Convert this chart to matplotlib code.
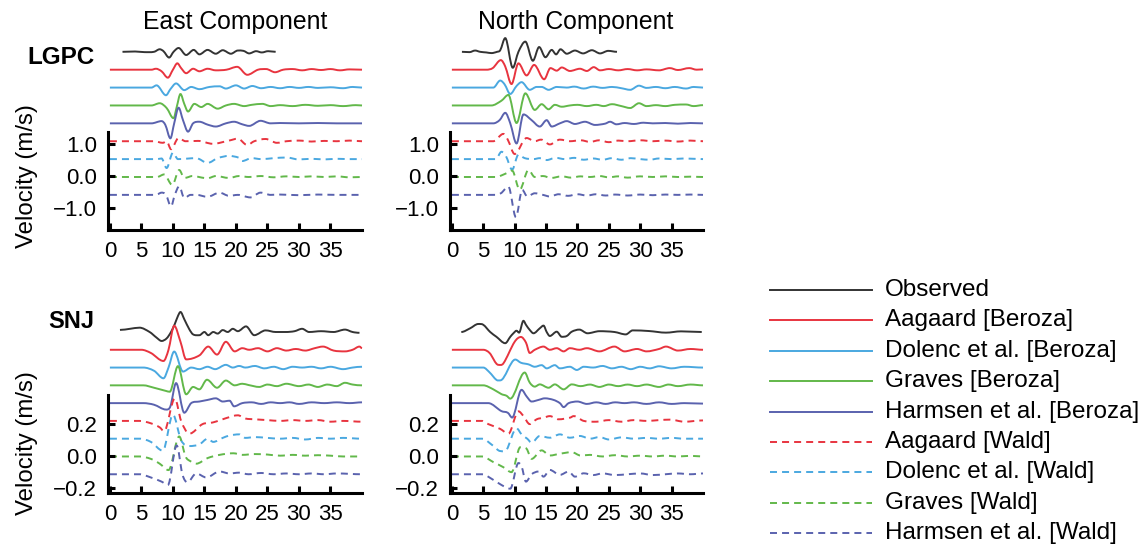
import matplotlib
matplotlib.use('Agg')
import matplotlib.pyplot as plt
from matplotlib.lines import Line2D
from matplotlib.path import Path
from matplotlib.patches import PathPatch

plt.rcParams['font.family'] = ['Liberation Sans', 'DejaVu Sans']

W, H = 1146, 547

series = ['Observed', 'Aagaard [Beroza]', 'Dolenc et al. [Beroza]', 'Graves [Beroza]',
          'Harmsen et al. [Beroza]', 'Aagaard [Wald]', 'Dolenc et al. [Wald]',
          'Graves [Wald]', 'Harmsen et al. [Wald]']
colors = ['#333333', '#e8343f', '#4aa8e0', '#62b84a', '#5a62ae',
          '#e8343f', '#4aa8e0', '#62b84a', '#5a62ae']
dashed = [False] * 5 + [True] * 4

x_ticks = [0, 5, 10, 15, 20, 25, 30, 35]
lgpc_yticks = [-1.0, 0.0, 1.0]
snj_yticks = [-0.2, 0.0, 0.2]

# trace baselines (m/s), top to bottom
lgpc_offsets = [3.88, 3.32, 2.76, 2.20, 1.64, 1.08, 0.52, -0.04, -0.60]
snj_offsets = [0.775, 0.664, 0.553, 0.442, 0.331, 0.220, 0.109, -0.002, -0.113]

# (time s, velocity m/s) vertices of each trace, same order as series
lgpc_east = [
    [(2, 0), (4, 0.01), (5.5, -0.01), (7, 0), (7.9, 0.08), (8.5, 0.02), (9.4, -0.18), (10.1, 0), (10.9, 0.12),
     (12.1, -0.1), (13.3, 0.06), (14.2, -0.08), (15.5, 0.06), (16.8, -0.06), (17.9, 0.05), (19.2, -0.06),
     (20.3, 0.04), (21.2, 0.03), (22.1, -0.05), (23.2, 0.02), (24.1, -0.02), (25.1, 0.02), (26.3, 0)],
    [(0, 0), (6.6, 0), (7.3, 0.03), (8.2, -0.05), (9.2, -0.25), (10.0, 0.0), (10.7, 0.2), (11.3, 0.05),
     (12.1, -0.11), (13.2, 0.03), (14.2, -0.05), (15.5, 0.03), (16.8, -0.02), (18.5, 0.0), (20.2, 0.09),
     (21.8, -0.16), (23.5, 0.0), (24.8, 0.02), (26.2, -0.08), (27.5, 0.0), (29, 0.02), (30.5, -0.02),
     (32, 0.02), (33.5, -0.01), (35, 0.02), (36.5, -0.02), (38, 0.01), (40, 0.0)],
    [(0, 0), (6.6, 0), (7.4, 0.07), (8.9, -0.24), (9.6, -0.05), (10.5, 0.13), (11.8, -0.08), (12.9, 0.02),
     (14.2, -0.05), (15.8, 0.02), (17.4, 0.04), (18.4, -0.03), (20, 0.07), (21.3, -0.03), (22.6, 0.05),
     (24, -0.02), (25.5, 0.02), (27, -0.02), (28.5, 0.02), (30, -0.01), (31.5, 0.02), (33, -0.01),
     (35, 0.01), (37, -0.02), (38.5, 0.02), (40, 0)],
    [(0, 0), (6.6, 0), (7.9, 0.07), (9.0, -0.08), (10.1, -0.4), (10.6, -0.05), (11.2, 0.36), (11.8, 0.05),
     (12.4, -0.19), (13.4, 0.05), (14.5, -0.05), (15.5, 0.05), (17.1, -0.1), (18.4, 0), (19.7, 0.05),
     (21.3, -0.02), (22.5, 0.02), (24.2, 0.05), (25.5, -0.02), (27, 0.01), (29, -0.02), (31, 0.02),
     (33, -0.01), (35, 0.01), (37, -0.02), (39, 0.01), (40, 0)],
    [(0, 0), (6.6, 0), (8.2, 0.07), (8.8, -0.05), (9.6, -0.47), (10.2, 0), (10.9, 0.49), (11.6, 0.1),
     (12.4, -0.26), (13.2, 0), (14.2, 0.05), (15.5, -0.04), (16.8, -0.1), (18.4, 0), (19.7, 0.05),
     (21, -0.03), (22.1, -0.08), (23.9, 0.08), (25.5, 0), (27, 0.01), (30, 0), (33, 0.01), (36, 0), (40, 0)],
    [(0, 0), (7, 0), (8.4, -0.05), (9.0, 0.0), (9.7, -0.25), (10.9, 0.1), (12.0, 0), (14, 0.01),
     (16.3, -0.08), (18.9, 0.02), (20.3, 0.08), (21.8, -0.12), (22.9, 0), (24.7, 0.07), (26.5, -0.05),
     (28, 0), (30, 0.02), (32, -0.01), (34, 0.01), (36, 0), (38, 0.02), (40, 0)],
    [(0, 0), (7.5, 0), (8.2, 0.02), (9.0, -0.28), (10.0, 0.2), (10.8, 0), (13.7, 0.03), (15.5, -0.12),
     (17.1, 0.03), (18.9, 0.1), (20.5, 0.04), (21, -0.06), (22.5, 0.03), (24, 0), (26, 0.03), (28, 0.05),
     (30, -0.01), (32, 0.01), (34, -0.01), (36, 0.01), (38, 0), (40, 0)],
    [(0, 0), (7.5, 0), (8.6, 0.08), (9.9, -0.25), (11.0, 0.22), (11.8, -0.03), (12.5, 0), (13, 0.03),
     (15.5, -0.04), (16.8, 0.03), (18.9, -0.03), (20.5, 0.03), (22, 0), (24, 0.03), (26, -0.01),
     (28, 0.02), (30, 0), (32, 0.02), (34, 0), (36, 0.02), (38, -0.01), (40, 0)],
    [(0, 0), (7.3, 0), (8.2, 0.07), (8.9, 0), (9.7, -0.36), (10.3, 0.0), (11.0, 0.27), (11.8, -0.1),
     (12.8, 0), (13.7, 0.0), (15.5, -0.06), (17.4, 0.07), (18.9, -0.03), (20.3, 0.0), (22.3, -0.08),
     (23.9, 0.07), (25.5, 0), (27, 0.01), (30, -0.01), (33, 0.01), (36, 0), (40, 0)],
]

lgpc_north = [
    [(1.6, 0), (2.8, -0.01), (3.7, 0.04), (4.5, 0.0), (5.5, -0.02), (6.3, -0.04), (7.2, 0.0), (7.7, 0.05),
     (8.5, 0.43), (9.7, -0.5), (10.6, 0.0), (11.7, 0.32), (12.9, -0.28), (13.9, 0.15), (14.9, -0.17),
     (15.9, 0.06), (16.6, -0.08), (17.3, 0.08), (18.3, -0.06), (19.6, 0.04), (20.9, -0.05), (22.3, 0.05),
     (23.6, -0.05), (24.9, 0.03), (26.3, 0)],
    [(0, 0), (5.5, 0), (6.5, 0.05), (7.8, 0.3), (8.5, 0.1), (9.5, -0.45), (10.6, 0.2), (11.9, -0.18),
     (13.1, 0.15), (14.7, -0.3), (15.7, 0.05), (16.7, -0.03), (17.5, 0.07), (18.8, -0.04), (20.4, 0.03),
     (21.5, -0.04), (22.6, 0.08), (23.6, -0.02), (25, 0.02), (26.5, -0.02), (28, 0.02), (29.5, -0.02),
     (31, 0.01), (33, -0.02), (34.7, 0.05), (36, -0.01), (37.8, 0.05), (39, 0), (40, 0.01)],
    [(0, 0), (6.6, 0), (7.7, 0.22), (8.4, 0.1), (9.3, -0.2), (10.3, 0.05), (11.1, 0.17), (12.4, -0.07),
     (13.5, 0.02), (14.3, 0.02), (15.4, -0.07), (16.7, 0.02), (18.3, 0), (19.5, 0.03), (21, -0.03),
     (22.5, 0.03), (24, -0.01), (25.5, 0.02), (27, -0.02), (28.4, -0.07), (29.8, 0.06), (31, -0.01),
     (32.5, 0.02), (34, -0.02), (35.5, 0.02), (37.3, -0.03), (38.5, 0.02), (40, 0)],
    [(0, 0), (6.3, 0), (7.9, 0.15), (9.0, 0.33), (10.3, -0.55), (11.7, 0.38), (13.2, -0.14), (14.3, 0.04),
     (15.4, -0.12), (16.4, 0.02), (17.5, -0.04), (18.8, 0), (20, 0.02), (21.5, -0.02), (23, 0.02),
     (24.2, -0.02), (25.5, 0.04), (27, -0.02), (28.4, -0.08), (29.8, 0.07), (31, -0.02), (32.5, 0.01),
     (34, -0.02), (35.5, 0.02), (37.3, 0.03), (38.5, -0.02), (40, 0.01)],
    [(0, 0), (6.6, 0), (7.6, 0.1), (8.5, 0.33), (9.3, 0.0), (10.3, -0.63), (11.4, 0.28), (12.7, 0.1),
     (14.0, -0.1), (15.1, 0.1), (15.9, -0.1), (17.2, 0), (18.3, 0.07), (19.6, -0.02), (21.2, 0.05),
     (22.8, -0.05), (24.4, -0.01), (25.2, 0.05), (26.2, -0.03), (27.5, 0.01), (29, -0.02), (30.5, 0.02),
     (32, 0), (34, 0.01), (36, -0.01), (38, 0.01), (40, 0)],
    [(0, 0), (6.6, 0), (8.2, 0.23), (8.9, 0.05), (10.0, -0.4), (11.9, 0.1), (13.2, 0), (14.2, 0.05),
     (15.6, -0.1), (17.2, 0.05), (18.8, 0), (20.5, 0.03), (22, -0.02), (23.5, 0.03), (25, -0.03),
     (26.5, 0.02), (28, 0), (30, 0.03), (32, 0), (34, 0.02), (36, -0.01), (38, 0.02), (40, 0)],
    [(0, 0), (7.0, 0), (7.9, 0.23), (8.6, 0.1), (9.6, -0.33), (10.6, 0.14), (11.6, 0.03), (13, 0),
     (14, 0.03), (15.1, -0.03), (16.5, 0.04), (18, 0.0), (19.5, 0.04), (21, -0.02), (22.5, 0.02),
     (24, -0.02), (25.5, 0.03), (27, -0.02), (28.5, 0.03), (30, 0), (31.5, -0.02), (33, 0.02), (35, 0),
     (37, 0.02), (40, 0)],
    [(0, 0), (7.0, 0), (8.5, 0.1), (9.6, 0.2), (10.8, -0.4), (12.2, 0.22), (13.2, 0.0), (14.5, 0.03),
     (15.8, -0.03), (17.5, 0.02), (19, -0.02), (20.5, 0.02), (22, 0), (23.5, 0.03), (25, -0.01),
     (26.5, 0.02), (28, -0.02), (30, 0.02), (32, 0), (34, 0.02), (36, 0), (38, 0.01), (40, 0)],
    [(0, 0), (6.6, 0), (7.8, 0.05), (9.0, 0.26), (10.2, -0.7), (11.2, 0.16), (12.0, -0.05), (13.2, 0.05),
     (14.5, 0), (15.6, -0.05), (17, 0.02), (18.5, -0.03), (20, 0.02), (21.5, -0.02), (23, 0.02),
     (24.5, -0.02), (26, 0.01), (28, -0.02), (30, 0.01), (32, -0.01), (34, 0.01), (36, 0), (38, 0.01),
     (40, 0)],
]

snj_east = [
    [(1.6, 0.013), (3.2, 0.02), (4.7, 0.027), (6.3, 0), (7.4, -0.035), (8.2, -0.056), (9, -0.04), (9.7, 0),
     (10.3, 0.05), (10.8, 0.1), (11.2, 0.125), (11.8, 0.08), (12.6, 0.017), (13.2, -0.015), (14.2, -0.02),
     (15, 0), (15.6, -0.02), (16.4, 0), (17.1, -0.01), (17.9, 0.012), (18.7, 0), (19.5, 0.02),
     (20.3, 0.005), (21.6, 0.035), (22.9, -0.02), (24.7, 0.01), (26.3, 0.0), (27.9, 0.0), (29.3, 0.005),
     (30.5, 0.02), (31.6, 0), (33.5, 0.005), (35.5, 0.0), (37.3, 0.015), (38.5, 0.0), (39.6, -0.005)],
    [(0, 0), (5, 0), (6.5, -0.02), (8.5, -0.07), (9.3, 0.0), (10.2, 0.15), (11.2, 0.05), (12.1, -0.06),
     (14.2, -0.035), (15.6, 0.02), (17.0, -0.03), (18.4, 0.05), (19.8, -0.01), (21, 0.01), (22.1, 0.0),
     (23.5, 0.01), (25, -0.01), (26.5, 0.01), (28, -0.005), (29.5, 0.005), (31, -0.005), (32.5, 0.01),
     (33.8, 0.02), (35.5, -0.005), (37.3, -0.01), (38.5, 0.0), (39.6, 0.02), (40, 0.01)],
    [(0, 0), (5.3, 0), (7, -0.02), (8.5, -0.067), (9.3, 0), (10.2, 0.1), (11.6, -0.025), (12.9, 0),
     (14.2, -0.01), (15.5, 0.005), (16.7, -0.01), (18.4, 0.017), (19.5, 0), (20.5, 0.01), (21.5, 0.0),
     (23, 0.01), (24.5, -0.005), (26, 0.005), (27.5, -0.01), (29, 0.005), (30.5, 0), (32, 0.005),
     (33.5, -0.005), (35, 0.005), (37, -0.01), (38.5, 0.0), (40, 0.005)],
    [(0, 0), (5.3, 0), (7, -0.015), (8.9, -0.035), (9.5, -0.04), (10.8, 0.12), (12.1, -0.056),
     (13.2, -0.01), (14.2, -0.025), (15.4, 0.035), (17.0, -0.015), (18.4, 0.03), (19.8, 0.0),
     (21, 0.01), (22, 0.002), (23.7, -0.01), (25, 0.005), (26.5, -0.005), (28, 0.01),
     (30, -0.005), (31.5, 0.005), (33, -0.01), (34.5, 0.005), (36, -0.005), (37.3, 0.016), (38.5, 0.005),
     (40, 0.0)],
    [(0, 0), (5.3, 0), (7, -0.01), (8.9, -0.04), (9.6, -0.02), (10.5, 0.125), (11.8, -0.06), (12.9, 0),
     (14.2, 0.01), (15.5, 0.02), (16.8, 0.03), (17.9, 0.01), (19, 0.015), (19.7, -0.02), (21, 0),
     (22.5, 0.005), (24, -0.005), (25.5, 0.005), (27, 0), (28.5, 0.005), (30, -0.005), (32, 0.005),
     (34, 0), (36, 0.005), (38, 0), (40, 0.005)],
    [(0, 0), (4.7, 0), (6.5, -0.015), (7.9, -0.04), (8.6, -0.065), (10.3, 0.14), (11.3, 0.0),
     (12.6, -0.08), (14.7, -0.02), (16.3, -0.01), (17.5, 0.005), (19.5, 0.03), (20.3, 0.035),
     (21.5, 0.015), (23, 0.01), (25, 0.005), (27, 0.0), (29, 0.005), (31, 0), (33, 0.005), (35, -0.005),
     (37, 0.0), (40, -0.005)],
    [(0, 0), (4.7, 0), (6.5, -0.02), (8.4, -0.075), (10, 0.15), (11.3, -0.01), (12.6, -0.046),
     (14.2, -0.036), (15.5, 0.0), (16.4, -0.02), (17.9, 0.005), (19, 0.02), (20.5, 0.027), (21.5, 0.005),
     (23, 0.01), (25, 0.005), (27, 0), (29, 0.005), (31, -0.005), (33, 0.005), (35, 0), (37, 0.005),
     (40, 0)],
    [(0, 0), (4.7, 0), (6.5, -0.015), (7.9, -0.045), (9.3, -0.085), (11.0, 0.125), (12.0, 0.0),
     (12.8, -0.03), (13.7, -0.045), (15.5, -0.01), (17.4, 0.01), (19.6, 0.02), (21, 0.01), (23, 0.015),
     (25, 0.012), (27, 0.005), (29, 0.01), (31, 0.005), (33, 0.008), (35, 0.005), (37, 0.0), (40, 0)],
    [(0, 0), (4.7, 0), (6.5, -0.02), (8.2, -0.046), (9.2, -0.067), (10.6, 0.18), (11.5, 0.0),
     (12.3, -0.05), (13.7, 0.005), (15.3, -0.02), (17.4, 0.017), (19, 0.005), (20.5, 0.01), (22, 0.0),
     (24, 0.008), (26, 0.0), (28, 0.005), (30, 0.0), (32, 0.005), (34, 0), (36, 0.005), (40, 0)],
]

snj_north = [
    [(1.5, 0), (2.9, 0.023), (4.2, 0.05), (5, 0.045), (6.1, 0), (7.1, -0.03), (8.5, -0.07), (9.3, -0.03),
     (9.8, -0.008), (10.3, 0.008), (10.7, -0.004), (11.4, 0.07), (11.8, 0.045), (12.4, 0.013),
     (13, -0.008), (14, 0.023), (14.6, 0.04), (15.1, 0.0), (15.6, -0.025), (16.7, 0.002), (17.5, -0.03),
     (18.3, -0.025), (19.1, 0.002), (20.3, 0.015), (21.6, -0.008), (23.5, 0.005), (25.9, 0.0),
     (27.7, -0.015), (28.8, 0.01), (31.4, 0.006), (34.1, -0.004), (36.5, 0.004), (39.8, 0)],
    [(0, 0), (5, 0), (6, -0.02), (7.4, -0.094), (8.2, -0.085), (10, 0.05), (11.0, 0.08), (11.8, 0.045),
     (12.4, -0.02), (13.2, 0), (14.6, 0.02), (15.6, 0), (16.7, 0.01), (17.8, -0.01), (18.8, 0.01),
     (20.3, 0.0), (21.5, 0.01), (23.5, -0.01), (25.9, 0.02), (27.5, -0.01), (29.5, 0.005), (31, -0.01),
     (33, 0.005), (34.1, 0.02), (36, -0.005), (38, 0.005), (40, 0.0)],
    [(0, 0), (5, 0), (6, -0.03), (7.1, -0.077), (7.7, -0.08), (10.1, 0.05), (11, 0.03), (12.2, 0.02),
     (13.2, 0.005), (14.3, 0.015), (15.1, -0.005), (16.4, 0.015), (17.2, -0.005), (18.8, 0.005),
     (19.9, -0.015), (21, 0.005), (22.5, 0.0), (24, 0.01), (25.5, -0.005), (27, 0.005), (28.5, -0.01),
     (30, 0.005), (31.5, -0.005), (33, 0.008), (35, -0.005), (37, 0.005), (40, 0)],
    [(0, 0), (5, 0), (6.6, -0.025), (7.9, -0.055), (8.7, -0.065), (9.3, -0.083), (11.6, 0.08),
     (12.4, 0.017), (13.2, -0.008), (14, 0.006), (15.4, -0.015), (16.4, 0.006), (17.8, -0.025),
     (19.1, 0.006), (20.5, -0.005), (22, 0.005), (23.5, -0.01), (25, 0.005), (26.5, -0.005), (28, 0.005),
     (29.5, -0.005), (31, 0.005), (33, -0.01), (34.5, 0.005), (36, -0.005), (38, 0.005), (40, 0)],
    [(0, 0), (5.8, 0), (7.9, -0.05), (8.9, -0.06), (9.6, -0.09), (11.1, 0.083), (11.9, 0.042),
     (12.7, 0.01), (13.8, 0.02), (14.8, 0.03), (16.2, 0.02), (17.2, 0), (17.8, -0.025), (18.6, 0.0),
     (20, 0.01), (21.5, -0.005), (23, 0.005), (24.5, -0.005), (26, 0.005), (27.5, 0.0), (29, 0.005),
     (31, -0.005), (33, 0.005), (35, -0.005), (37, 0.0), (40, -0.003)],
    [(0, 0), (4.8, 0), (5.8, -0.02), (7.7, -0.05), (9.0, -0.08), (10.6, 0.06), (11.4, 0.03), (12.4, -0.02),
     (13.5, 0.01), (14.6, 0.02), (15.6, 0.03), (17, 0.01), (18.8, 0.02), (19.4, 0.03), (21, 0.0),
     (23, -0.005), (25, 0.005), (27, -0.005), (29, 0.005), (31, 0.0), (33, 0.005), (34.8, 0.008),
     (37, -0.005), (40, 0.003)],
    [(0, 0), (4.8, 0), (6.6, -0.045), (7.7, -0.077), (8.7, -0.07), (10.3, 0.065), (11.1, 0.027),
     (12, 0.0), (12.7, -0.025), (14, 0.017), (15.6, 0.006), (17.2, 0.027), (18.8, 0.006), (20.4, 0.017),
     (22, 0.0), (23.5, 0.01), (25, -0.005), (27, 0.008), (29, 0), (31, 0.005), (33, 0), (35, 0.005),
     (37, 0), (40, 0)],
    [(0, 0), (4.8, 0), (6.6, -0.035), (8.2, -0.067), (9.5, -0.098), (10.9, 0.058), (11.9, 0.048),
     (12.7, -0.015), (14.3, 0.038), (15.6, 0.006), (17.2, 0.017), (19.1, 0.027), (20.5, 0.006),
     (22, 0.01), (24, 0.0), (26, 0.008), (28, 0.0), (30, 0.005), (32, 0.0), (34, 0.005), (36, 0),
     (38, 0.004), (40, 0)],
    [(0, 0), (4.8, 0), (6.6, -0.035), (7.9, -0.067), (9.3, -0.09), (10.6, 0.07), (11.1, 0.05),
     (11.8, -0.046), (12.7, 0.0), (13.8, 0.017), (14.6, -0.015), (15.6, 0.027), (17.2, -0.004),
     (18.6, 0.017), (19.6, -0.015), (21, 0.006), (22.5, -0.005), (24, 0.005), (26, -0.005), (28, 0.0),
     (30, 0.005), (32, -0.005), (34, 0.0), (36, 0.005), (38, 0), (40, 0.005)],
]


def box(left, top, right, bottom):
    # pixel box -> figure fraction rect
    return [left / W, 1 - bottom / H, (right - left) / W, (bottom - top) / H]


def smooth_path(t, v):
    # cubic Hermite segments through the vertices, flat tangent at turning points
    n = len(t)
    slopes = []
    for i in range(n):
        if i == 0 or i == n - 1:
            slopes.append(0.0)
        elif (v[i] - v[i - 1]) * (v[i + 1] - v[i]) <= 0:
            slopes.append(0.0)
        else:
            slopes.append((v[i + 1] - v[i - 1]) / (t[i + 1] - t[i - 1]))
    verts = [(t[0], v[0])]
    codes = [Path.MOVETO]
    for i in range(n - 1):
        h = (t[i + 1] - t[i]) / 3.0
        verts += [(t[i] + h, v[i] + slopes[i] * h),
                  (t[i + 1] - h, v[i + 1] - slopes[i + 1] * h),
                  (t[i + 1], v[i + 1])]
        codes += [Path.CURVE4] * 3
    return Path(verts, codes)


def draw_panel(ax, traces, offsets, ylim, spine_top, yticks, ylabels):
    for idx, pts in enumerate(traces):
        t = [p[0] for p in pts]
        v = [p[1] + offsets[idx] for p in pts]
        ls = (0, (3.6, 2.6)) if dashed[idx] else '-'
        patch = PathPatch(smooth_path(t, v), fill=False, edgecolor=colors[idx], lw=1.4,
                          linestyle=ls, joinstyle='round', capstyle='butt', clip_on=False)
        ax.add_patch(patch)
    ax.set_xlim(-0.3, 40)
    ax.set_ylim(*ylim)
    for s in ['top', 'right']:
        ax.spines[s].set_visible(False)
    ax.spines['left'].set_bounds(ylim[0], spine_top)
    for s in ['left', 'bottom']:
        ax.spines[s].set_linewidth(2.2)
    ax.set_xticks(x_ticks)
    ax.set_xticklabels([str(x) for x in x_ticks])
    ax.set_yticks(yticks)
    ax.set_yticklabels(ylabels)
    ax.tick_params(direction='in', length=5, width=2.2, labelsize=16, pad=8, colors='black')
    ax.patch.set_visible(False)


fig = plt.figure(figsize=(W / 100, H / 100), dpi=100)

lgpc_labels = ['\u22121.0', '0.0', '1.0']
snj_labels = ['\u22120.2', '0.0', '0.2']

ax1 = fig.add_axes(box(108, 40, 362, 230))
draw_panel(ax1, lgpc_east, lgpc_offsets, (-1.7, 4.25), 1.37, lgpc_yticks, lgpc_labels)
ax2 = fig.add_axes(box(450, 40, 703, 230))
draw_panel(ax2, lgpc_north, lgpc_offsets, (-1.7, 4.25), 1.37, lgpc_yticks, lgpc_labels)
ax3 = fig.add_axes(box(108, 303, 362, 493))
draw_panel(ax3, snj_east, snj_offsets, (-0.23, 0.956), 0.38, snj_yticks, snj_labels)
ax4 = fig.add_axes(box(450, 303, 703, 493))
draw_panel(ax4, snj_north, snj_offsets, (-0.23, 0.956), 0.38, snj_yticks, snj_labels)

fig.text(235 / W, 1 - 22 / H, 'East Component', fontsize=17.8, ha='center', va='center')
fig.text(576 / W, 1 - 22 / H, 'North Component', fontsize=17.8, ha='center', va='center')
fig.text(27 / W, 1 - 57 / H, 'LGPC', fontsize=17.5, fontweight='bold', ha='left', va='center')
fig.text(48 / W, 1 - 322 / H, 'SNJ', fontsize=17, fontweight='bold', ha='left', va='center')
fig.text(27 / W, 1 - 176 / H, 'Velocity (m/s)', fontsize=17.3, rotation=90, ha='center', va='center')
fig.text(27 / W, 1 - 443 / H, 'Velocity (m/s)', fontsize=17.3, rotation=90, ha='center', va='center')

# legend drawn by hand: line sample + label per row
for i, name in enumerate(series):
    y = 1 - (290 + i * 30.4) / H
    ln = Line2D([770 / W, 872 / W], [y, y], transform=fig.transFigure, color=colors[i], lw=1.4)
    if dashed[i]:
        ln.set_dashes((3.6, 2.6))
    fig.add_artist(ln)
    fig.text(885 / W, y, name, fontsize=17.5, ha='left', va='center')

fig.savefig('out.png', dpi=100)
